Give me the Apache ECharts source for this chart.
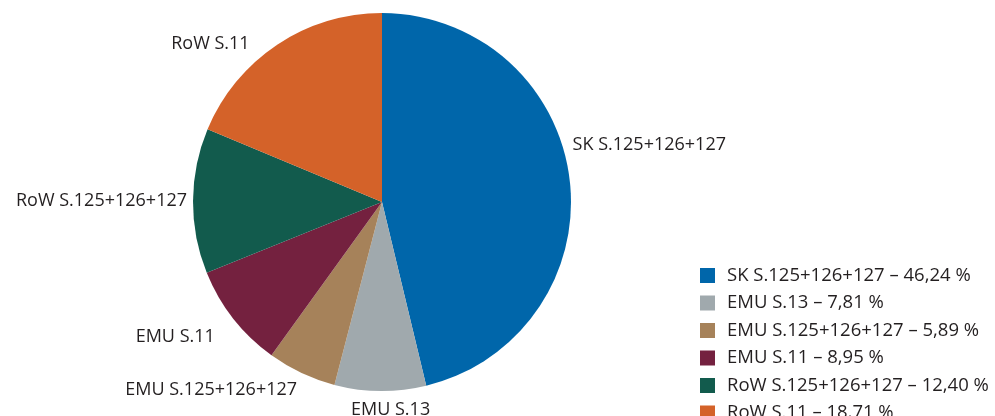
<!DOCTYPE html>
<html>
<head>
<meta charset="utf-8">
<script src="https://cdn.jsdelivr.net/npm/echarts@6/dist/echarts.min.js"></script>
<style>
html,body{margin:0;padding:0;background:#fff;overflow:hidden;}
#chart{width:995px;height:450px;}
</style>
</head>
<body>
<div id="chart"></div>
<script>
const categories = ['SK S.125+126+127', 'EMU S.13', 'EMU S.125+126+127', 'EMU S.11', 'RoW S.125+126+127', 'RoW S.11'];
const values = [46.24, 7.81, 5.89, 8.95, 12.40, 18.71];
const colors = ['#0066AA', '#A0A9AD', '#A6825A', '#74213F', '#125B4D', '#D46229'];
// manual label nudges (style), as in the original layout
const labelNudges = [[-12, -34], [55, 8], [2, 8], [-10, 12], [4, 0], [-17, 7]];

const fontFamily = '"Open Sans", sans-serif';
const textColor = '#231F20';

const chart = echarts.init(document.getElementById('chart'), null, {renderer: 'canvas'});
const fmt = v => v.toFixed(2).replace('.', ',');

chart.setOption({
  animation: false,
  color: colors,
  legend: {
    orient: 'vertical',
    left: 695,
    top: 261,
    itemWidth: 15,
    itemHeight: 15,
    itemGap: 8.5,
    icon: 'rect',
    data: categories,
    formatter: name => name + ' \u2013 ' + fmt(values[categories.indexOf(name)]) + ' %',
    textStyle: {fontFamily, fontSize: 18.5, color: textColor, padding: [0, 0, 0, 7]}
  },
  series: [{
    type: 'pie',
    center: [382, 202],
    radius: 189,
    startAngle: 90,
    clockwise: true,
    data: categories.map((c, i) => ({name: c, value: values[i]})),
    label: {
      show: true,
      position: 'outside',
      fontFamily, fontSize: 18, color: textColor,
      formatter: '{b}'
    },
    labelLine: {show: false, length: 10, length2: 0},
    labelLayout: p => ({dx: labelNudges[p.dataIndex][0], dy: labelNudges[p.dataIndex][1]}),
    itemStyle: {borderWidth: 0}
  }]
});
</script>
</body>
</html>
